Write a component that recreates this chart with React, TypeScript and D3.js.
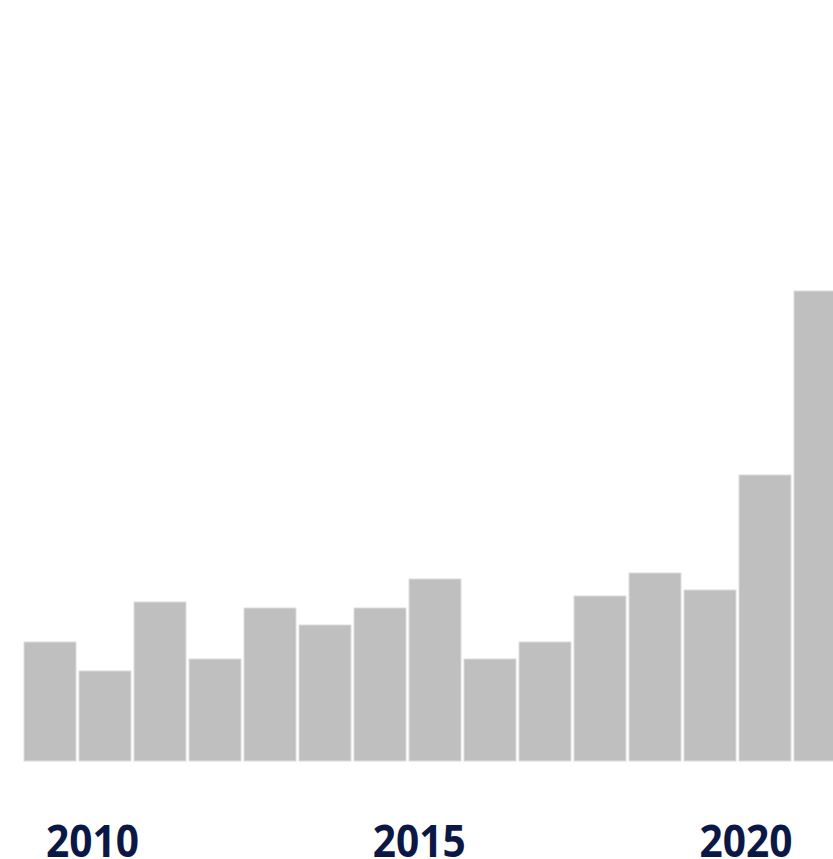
import React, { useEffect, useRef } from 'react';
import * as d3 from 'd3';

// bar values (arbitrary units, one per bar)
const periods = ['P1', 'P2', 'P3', 'P4', 'P5', 'P6', 'P7', 'P8', 'P9', 'P10', 'P11', 'P12', 'P13', 'P14', 'P15'];
const values = [119, 90, 159, 102, 153, 136, 153, 182, 102, 119, 165, 188, 171, 286, 470];
const yearTicks = [2010, 2015, 2020];

const WIDTH = 833;
const HEIGHT = 859;

export default function App() {
  const ref = useRef<SVGSVGElement | null>(null);

  useEffect(() => {
    if (!ref.current) return;
    const svg = d3.select(ref.current);
    svg.selectAll('*').remove();

    const baseline = 761;

    const x = d3.scaleBand<string>()
      .domain(periods)
      .range([22.5, 847.5])
      .paddingInner(0.055)
      .paddingOuter(0.0275);

    const y = d3.scaleLinear()
      .domain([0, baseline])
      .range([baseline, 0]);

    // year labels sit on their own scale, they don't line up with bar centres
    const xYear = d3.scaleLinear()
      .domain([2010, 2020])
      .range([92.5, 746]);

    svg.append('g')
      .selectAll('rect')
      .data(values)
      .join('rect')
      .attr('x', (_d, i) => x(periods[i])!)
      .attr('y', d => y(d))
      .attr('width', x.bandwidth())
      .attr('height', d => y(0) - y(d))
      .attr('fill', '#bfbfbf')
      .attr('stroke', '#dcdcdc')
      .attr('stroke-width', 1);

    svg.append('g')
      .selectAll('text')
      .data(yearTicks)
      .join('text')
      .attr('x', d => xYear(d))
      .attr('y', 857)
      .attr('text-anchor', 'middle')
      .attr('font-family', '"Open Sans", "Noto Sans", sans-serif')
      .attr('font-weight', 700)
      .attr('font-size', 44)
      .attr('textLength', 93)
      .attr('lengthAdjust', 'spacingAndGlyphs')
      .attr('fill', '#0b1846')
      .text(d => String(d));
  }, []);

  return (
    <svg
      ref={ref}
      width={WIDTH}
      height={HEIGHT}
      style={{ position: 'absolute', left: 0, top: 0, background: '#fff' }}
    />
  );
}
